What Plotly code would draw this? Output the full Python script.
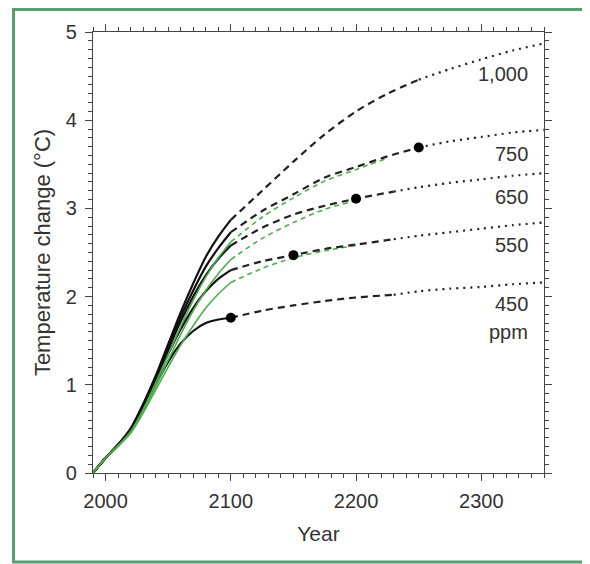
import plotly.graph_objects as go

# ---------------- data ----------------
years_solid = [1990, 2000, 2010, 2020, 2030, 2040, 2050, 2060, 2070, 2080, 2090, 2100]

wre1000_solid = [0, 0.17, 0.32, 0.50, 0.78, 1.10, 1.46, 1.82, 2.15, 2.45, 2.68, 2.87]
wre750_solid = [0, 0.17, 0.32, 0.50, 0.77, 1.08, 1.43, 1.77, 2.07, 2.34, 2.55, 2.73]
wre650_solid = [0, 0.17, 0.32, 0.49, 0.76, 1.07, 1.40, 1.72, 2.00, 2.24, 2.43, 2.58]
wre550_solid = [0, 0.17, 0.32, 0.49, 0.75, 1.05, 1.35, 1.63, 1.87, 2.06, 2.20, 2.30]
wre450_solid = [0, 0.17, 0.31, 0.48, 0.73, 1.00, 1.26, 1.47, 1.61, 1.70, 1.74, 1.76]

s750_solid = [0, 0.17, 0.31, 0.47, 0.72, 1.02, 1.34, 1.66, 1.96, 2.22, 2.44, 2.62]
s650_solid = [0, 0.17, 0.31, 0.46, 0.70, 0.98, 1.28, 1.57, 1.84, 2.07, 2.26, 2.42]
s550_solid = [0, 0.17, 0.30, 0.45, 0.68, 0.94, 1.20, 1.45, 1.67, 1.87, 2.03, 2.16]

# dashed continuation (after 2100)
wre1000_dash_years = [2100, 2125, 2150, 2175, 2200, 2225, 2250]
wre1000_dash = [2.87, 3.20, 3.53, 3.84, 4.10, 4.30, 4.46]
wre750_dash_years = [2100, 2125, 2150, 2175, 2200, 2225, 2250]
wre750_dash = [2.73, 2.97, 3.16, 3.35, 3.47, 3.59, 3.69]
wre650_dash_years = [2100, 2125, 2150, 2175, 2200, 2230]
wre650_dash = [2.58, 2.78, 2.93, 3.03, 3.11, 3.19]
wre550_dash_years = [2100, 2125, 2150, 2175, 2200, 2230]
wre550_dash = [2.30, 2.40, 2.47, 2.54, 2.59, 2.65]
wre450_dash_years = [2100, 2125, 2150, 2175, 2200, 2230]
wre450_dash = [1.76, 1.84, 1.90, 1.95, 1.99, 2.02]

s750_dash_years = [2100, 2125, 2150, 2175, 2200, 2225]
s750_dash = [2.62, 2.90, 3.12, 3.31, 3.44, 3.57]
s650_dash_years = [2100, 2125, 2150, 2175, 2200]
s650_dash = [2.42, 2.66, 2.84, 2.99, 3.09]
s550_dash_years = [2100, 2125, 2150, 2175, 2200]
s550_dash = [2.16, 2.32, 2.44, 2.52, 2.58]

# dotted continuation
wre1000_dot_years = [2250, 2275, 2300, 2325, 2350]
wre1000_dot = [4.46, 4.58, 4.69, 4.79, 4.87]
wre750_dot_years = [2250, 2275, 2300, 2325, 2350]
wre750_dot = [3.69, 3.76, 3.81, 3.86, 3.89]
wre650_dot_years = [2230, 2250, 2275, 2300, 2325, 2350]
wre650_dot = [3.19, 3.24, 3.29, 3.33, 3.37, 3.40]
wre550_dot_years = [2230, 2250, 2275, 2300, 2325, 2350]
wre550_dot = [2.65, 2.69, 2.73, 2.77, 2.81, 2.84]
wre450_dot_years = [2230, 2250, 2275, 2300, 2325, 2350]
wre450_dot = [2.02, 2.06, 2.09, 2.11, 2.14, 2.16]

# stabilisation markers
marker_years = [2100, 2150, 2200, 2250]
marker_values = [1.76, 2.47, 3.11, 3.69]

# curve labels
label_texts = ["1,000", "750", "650", "550", "450", "ppm"]
label_y = [4.52, 3.62, 3.13, 2.58, 1.92, 1.60]

# ---------------- figure ----------------
BLACK = "#111111"
GREEN = "#4cae4c"
TEXT = "#333333"
fig = go.Figure()


def add_line(x, y, color, width, dash):
    fig.add_trace(go.Scatter(
        x=x, y=y, mode="lines",
        line=dict(color=color, width=width, dash=dash, shape="spline", smoothing=0.8),
        showlegend=False, hoverinfo="skip"))


for ys in [wre1000_solid, wre750_solid, wre650_solid, wre550_solid, wre450_solid]:
    add_line(years_solid, ys, BLACK, 2.2, "solid")
for ys in [s750_solid, s650_solid, s550_solid]:
    add_line(years_solid, ys, GREEN, 1.6, "solid")

for xs, ys in [(s750_dash_years, s750_dash), (s650_dash_years, s650_dash),
               (s550_dash_years, s550_dash)]:
    add_line(xs, ys, GREEN, 1.6, "5px,4px")

for xs, ys in [(wre1000_dash_years, wre1000_dash), (wre750_dash_years, wre750_dash),
               (wre650_dash_years, wre650_dash), (wre550_dash_years, wre550_dash),
               (wre450_dash_years, wre450_dash)]:
    add_line(xs, ys, "#222222", 2.2, "7px,5px")

for xs, ys in [(wre1000_dot_years, wre1000_dot), (wre750_dot_years, wre750_dot),
               (wre650_dot_years, wre650_dot), (wre550_dot_years, wre550_dot),
               (wre450_dot_years, wre450_dot)]:
    add_line(xs, ys, "#222222", 2.2, "2px,5px")

fig.add_trace(go.Scatter(x=marker_years, y=marker_values, mode="markers",
                         marker=dict(color="black", size=10),
                         showlegend=False, hoverinfo="skip"))

for t, yv in zip(label_texts, label_y):
    fig.add_annotation(x=2339, y=yv, text=t, showarrow=False, xanchor="right",
                       yanchor="middle", font=dict(size=20, color=TEXT))

# plot area in figure pixels: x 85..536, y 24..465 (page has an 8px body margin)
PL, PR, PT, PB = 85, 536, 24, 465
PW, PH = PR - PL, PB - PT


def px_x(v):
    return (v - PL) / PW


def px_y(v):
    return (PB - v) / PH


# green frame
fig.add_shape(type="rect", xref="paper", yref="paper",
              x0=px_x(5.5), x1=px_x(578), y0=px_y(554), y1=px_y(1.5),
              line=dict(color="#5a9e72", width=3), layer="below")

axis_common = dict(
    showline=True, linecolor="#444444", linewidth=1.2, mirror="allticks",
    ticks="outside", ticklen=7, tickwidth=1.2, tickcolor="#444444",
    showgrid=False, zeroline=False,
    tickfont=dict(size=20, color=TEXT),
)

fig.update_xaxes(range=[1990, 2350], tick0=2000, dtick=100, ticklabelstandoff=3,
                 minor=dict(dtick=10, ticklen=4, tickcolor="#444444", ticks="outside"),
                 title=dict(text="Year", font=dict(size=21, color=TEXT), standoff=15),
                 **axis_common)
fig.update_yaxes(range=[0, 5], dtick=1, ticklabelstandoff=4,
                 minor=dict(dtick=0.1, ticklen=4, tickcolor="#444444", ticks="outside"),
                 title=dict(text="Temperature change (°C)", font=dict(size=22, color=TEXT),
                            standoff=9),
                 **axis_common)

fig.update_layout(
    width=590, height=564,
    margin=dict(l=PL, r=590 - PR, t=PT, b=564 - PB),
    paper_bgcolor="white", plot_bgcolor="white",
    font=dict(family="Liberation Sans, Arial, sans-serif", color=TEXT),
)

fig.write_html("out.html")
